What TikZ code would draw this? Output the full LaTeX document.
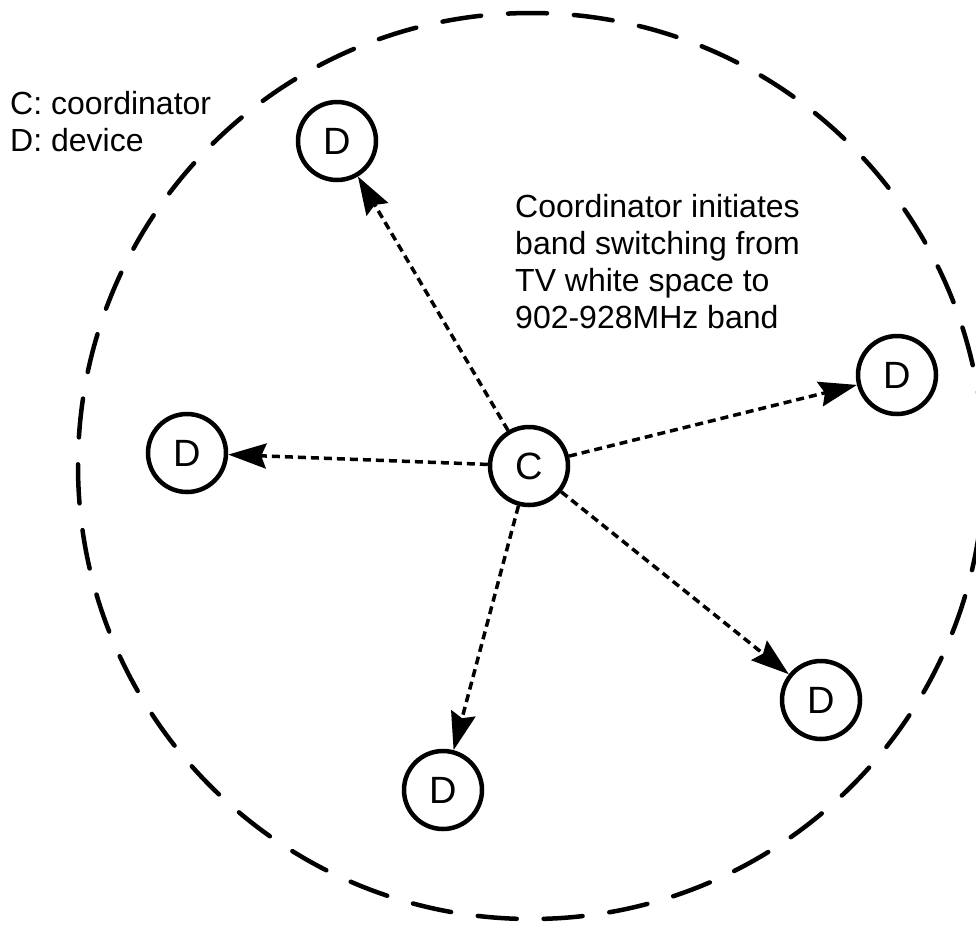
\documentclass[tikz,border=0pt]{standalone}
\usepackage{fontspec}
\setmainfont{Liberation Sans}
\usetikzlibrary{arrows.meta}
\begin{document}
\begin{tikzpicture}[x=1pt,y=-1pt,
  station/.style={circle,draw,line width=4.5pt,minimum size=78pt,inner sep=0pt,
    font=\fontsize{38}{40}\selectfont},
  rangeline/.style={line width=4.5pt,line cap=round,dash pattern=on 39pt off 27pt},
  signal/.style={line width=3.5pt,dash pattern=on 8pt off 5pt,
    -{Stealth[length=38pt,width=25pt,inset=5pt]}},
  note/.style={anchor=base west,align=left,inner sep=0pt,
    font=\fontsize{32}{37}\selectfont}]
  \useasboundingbox (0,0) rectangle (976,924);
  % radio range of the coordinator
  \draw[rangeline] (531,466) circle[radius=453];
  % coordinator and devices
  \node[station] (c) at (529,466) {C};
  \node[station] (d1) at (337,141) {D};
  \node[station] (d2) at (187,453) {D};
  \node[station] (d3) at (897,375) {D};
  \node[station] (d4) at (821,700) {D};
  \node[station] (d5) at (443,790) {D};
  % band switching commands
  \draw[signal] (c) -- (d1);
  \draw[signal] (c) -- (d2);
  \draw[signal] (c) -- (d3);
  \draw[signal] (c) -- (d4);
  \draw[signal] (c) -- (d5);
  % legend and annotation (base anchor sits on the last line)
  \node[note] (legend) at (10,151) {C: coordinator\\D: device};
  \node[note] (info) at (515,328) {Coordinator initiates\\band switching from\\TV white space to\\902-928MHz band};
\end{tikzpicture}
\end{document}
